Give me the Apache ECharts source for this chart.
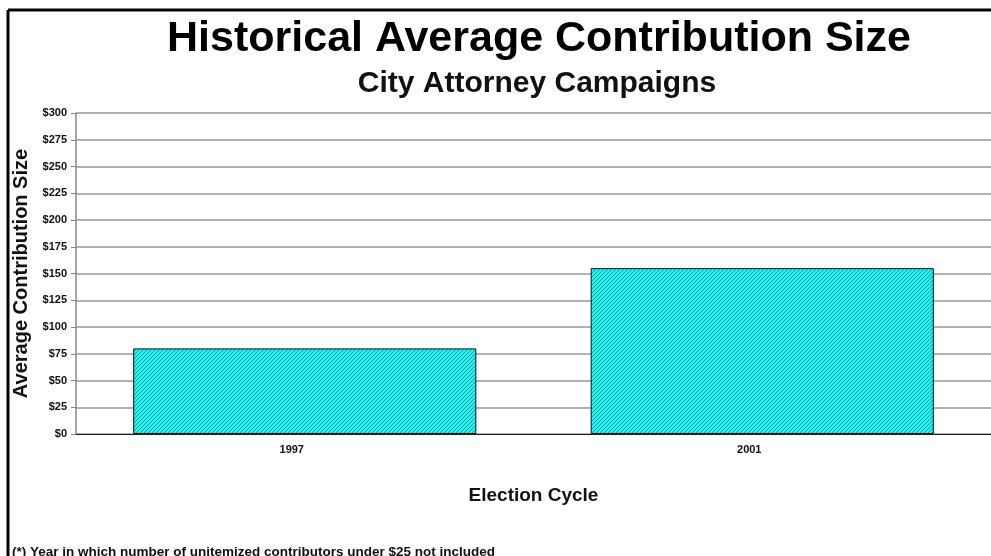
<!DOCTYPE html>
<html>
<head>
<meta charset="utf-8">
<script src="https://cdn.jsdelivr.net/npm/echarts@6/dist/echarts.min.js"></script>
<style>
  html, body { margin: 0; padding: 0; background: #fff; }
  #main { width: 991px; height: 556px; }
</style>
</head>
<body>
<div id="main"></div>
<script>
var cycles = ['1997', '2001'];
var avgSize = [80, 155];
var yTicks = [0, 25, 50, 75, 100, 125, 150, 175, 200, 225, 250, 275, 300];

// diagonal hatch like the old excel fill
function hatch() {
  var c = document.createElement('canvas');
  c.width = 4; c.height = 4;
  var ctx = c.getContext('2d');
  for (var x = 0; x < 4; x++) {
    for (var y = 0; y < 4; y++) {
      var k = (x + y) % 4;
      ctx.fillStyle = k === 0 ? '#1a9e9e' : (k === 1 ? '#5fd6d6' : '#00ffff');
      ctx.fillRect(x, y, 1, 1);
    }
  }
  return c;
}

var font = '"Liberation Sans", Arial, sans-serif';
var chart = echarts.init(document.getElementById('main'));

chart.setOption({
  backgroundColor: '#fff',
  animation: false,
  textStyle: { fontFamily: font },
  title: [{
    text: 'Historical Average Contribution Size',
    left: 534, top: 13, textAlign: 'center',
    textStyle: { fontSize: 43, fontWeight: 'bold', color: '#000', fontFamily: font }
  }, {
    text: 'City Attorney Campaigns',
    left: 532, top: 64, textAlign: 'center',
    textStyle: { fontSize: 30, fontWeight: 'bold', color: '#111', fontFamily: font }
  }, {
    text: '(*) Year in which number of unitemized contributors under $25 not included',
    left: 7, top: 540,
    textStyle: { fontSize: 13.5, fontWeight: 'bold', color: '#111', fontFamily: font }
  }],
  graphic: [
    { type: 'line', shape: { x1: 8, y1: 10, x2: 991, y2: 10 }, style: { stroke: '#000', lineWidth: 3 } },
    { type: 'line', shape: { x1: 8, y1: 10, x2: 8, y2: 556 }, style: { stroke: '#000', lineWidth: 3 } }
  ],
  grid: { left: 76, right: -7, top: 113, bottom: 122 },
  xAxis: {
    type: 'category',
    data: cycles,
    name: 'Election Cycle',
    nameLocation: 'middle',
    nameGap: 52,
    nameTextStyle: { fontSize: 19, fontWeight: 'bold', color: '#111' },
    axisLine: { lineStyle: { color: '#222', width: 1 } },
    axisTick: { show: false },
    axisLabel: { fontSize: 11, fontWeight: 'bold', color: '#111', margin: 10, padding: [0, 26, 0, 0] },
    splitLine: { show: false }
  },
  yAxis: {
    type: 'value',
    min: yTicks[0],
    max: yTicks[yTicks.length - 1],
    interval: 25,
    name: 'Average Contribution Size',
    nameLocation: 'middle',
    nameGap: 44,
    nameTextStyle: { fontSize: 20, fontWeight: 'bold', color: '#111' },
    axisLine: { show: true, lineStyle: { color: '#888', width: 1.5 } },
    axisTick: { show: true, length: 5, lineStyle: { color: '#888' } },
    axisLabel: {
      fontSize: 11, fontWeight: 'bold', color: '#111', margin: 9,
      formatter: function (v) { return '$' + v; }
    },
    splitLine: { lineStyle: { color: '#999', width: 1.5 } }
  },
  series: [{
    type: 'bar',
    data: avgSize,
    barWidth: '75%',
    itemStyle: {
      color: { image: hatch(), repeat: 'repeat' },
      borderColor: '#111',
      borderWidth: 1
    }
  }]
});
</script>
</body>
</html>
